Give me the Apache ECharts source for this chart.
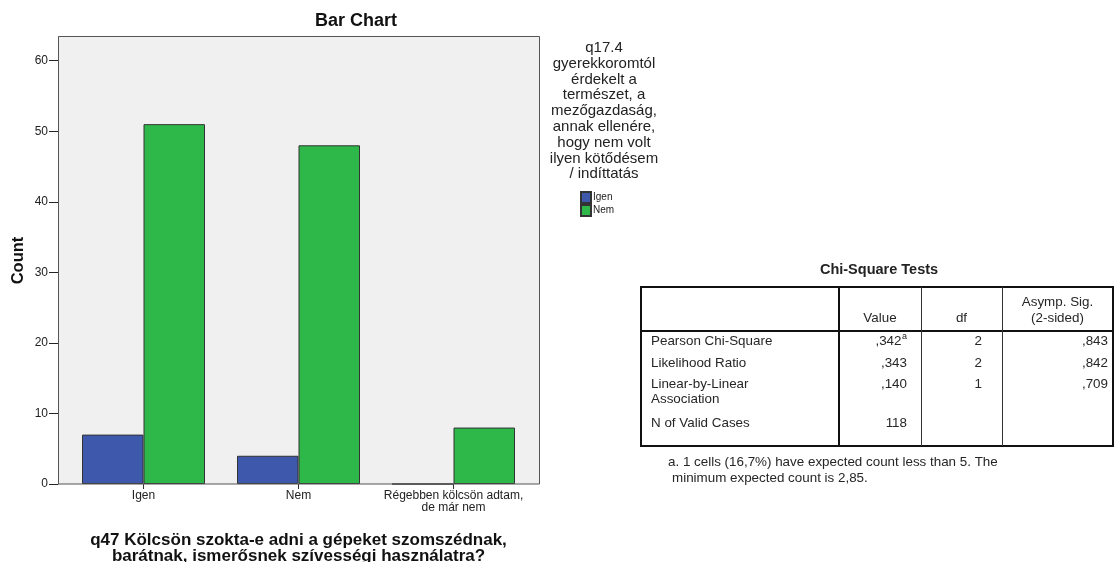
<!DOCTYPE html>
<html><head><meta charset="utf-8">
<script src="https://cdn.jsdelivr.net/npm/echarts@6/dist/echarts.min.js"></script>
<style>html,body{margin:0;padding:0;background:#fff;}#chart{width:1115px;height:562px;}</style>
</head><body><div id="chart"></div>
<script>
// ---- chart data ----
const categories = ['Igen', 'Nem', 'Régebben kölcsön adtam,\nde már nem'];
const seriesNames = ['Igen', 'Nem'];
const igenCounts = [7, 4, 0];
const nemCounts = [51, 48, 8];
const yTickValues = [0, 10, 20, 30, 40, 50, 60];
const chartTitle = 'Bar Chart';
const xAxisTitle = 'q47 Kölcsön szokta-e adni a gépeket szomszédnak,\nbarátnak, ismerősnek szívességi használatra?';
const yAxisTitle = 'Count';
const legendTitleLines = ['q17.4', 'gyerekkoromtól', 'érdekelt a', 'természet, a', 'mezőgazdaság,', 'annak ellenére,', 'hogy nem volt', 'ilyen kötődésem', '/ indíttatás'];

// ---- table data ----
const tableTitle = 'Chi-Square Tests';
const tableHeaders = ['', 'Value', 'df', 'Asymp. Sig.\n(2-sided)'];
const rowLabels = ['Pearson Chi-Square', 'Likelihood Ratio', 'Linear-by-Linear\nAssociation', 'N of Valid Cases'];
const valueCol = [',342', ',343', ',140', '118'];
const valueNotes = ['a', '', '', ''];
const dfCol = ['2', '2', '1', ''];
const sigCol = [',843', ',842', ',709', ''];
const footnoteLines = ['a. 1 cells (16,7%) have expected count less than 5. The', 'minimum expected count is 2,85.'];

const F = "'Liberation Sans', Arial, sans-serif";
const TXT = '#262626';

const elems = [];
function txt(x, y, text, font, align, valign, extra) {
  const st = Object.assign({text: text, font: font, fill: TXT, textAlign: align, textVerticalAlign: valign, align: align, verticalAlign: valign}, extra || {});
  elems.push({type: 'text', x: x, y: y, silent: true, z: 20, style: st});
}
function line(x1, y1, x2, y2, w, c) {
  elems.push({type: 'line', silent: true, z: 20, shape: {x1: x1, y1: y1, x2: x2, y2: y2}, style: {stroke: c || '#111', lineWidth: w}});
}

// plot background + frame
elems.push({type: 'rect', silent: true, z: -5, shape: {x: 58.5, y: 36.5, width: 481, height: 447.5}, style: {fill: '#F0F0F0'}});
elems.push({type: 'rect', silent: true, z: 15, shape: {x: 58.5, y: 36.5, width: 481, height: 447.5}, style: {fill: null, stroke: '#555', lineWidth: 1}});

// chart title
txt(356, 21, chartTitle, 'bold 18px ' + F, 'center', 'middle', {fill: '#111'});
// legend title
txt(604, 40, legendTitleLines.join('\n'), '15px ' + F, 'center', 'top', {lineHeight: 15.8, fill: '#222'});

// ---- table ----
const colX = [641, 839, 921, 1002, 1113];
const tTop = 287, tHead = 331, tBottom = 446;
const rowY = [341, 363, 384, 423];
const TF = '13.4px ' + F;
txt(879, 270, tableTitle, 'bold 14.5px ' + F, 'center', 'middle', {fill: '#222'});
for (let c = 1; c < tableHeaders.length; c++) {
  txt((colX[c] + colX[c + 1]) / 2, 326, tableHeaders[c], TF, 'center', 'bottom', {lineHeight: 16});
}
for (let r = 0; r < rowLabels.length; r++) {
  txt(651, rowY[r] - 7.5, rowLabels[r], TF, 'left', 'top', {lineHeight: 15});
  const vRight = valueNotes[r] ? 901.5 : 907;
  txt(vRight, rowY[r], valueCol[r], TF, 'right', 'middle');
  if (valueNotes[r]) txt(907, rowY[r] - 4, valueNotes[r], '9px ' + F, 'right', 'middle');
  txt(982, rowY[r], dfCol[r], TF, 'right', 'middle');
  txt(1108, rowY[r], sigCol[r], TF, 'right', 'middle');
}
txt(668, 462, footnoteLines[0], TF, 'left', 'middle');
txt(672, 478, footnoteLines[1], TF, 'left', 'middle');
line(colX[0], tTop, colX[4], tTop, 2);
line(colX[0], tBottom, colX[4], tBottom, 2);
line(colX[0], tTop - 1, colX[0], tBottom + 1, 2);
line(colX[4], tTop - 1, colX[4], tBottom + 1, 2);
line(colX[0], tHead, colX[4], tHead, 2);
line(colX[1], tTop, colX[1], tBottom, 2);
line(colX[2] + 0.5, tTop, colX[2] + 0.5, tBottom, 1, '#333');
line(colX[3] + 0.5, tTop, colX[3] + 0.5, tBottom, 1, '#333');

const chart = echarts.init(document.getElementById('chart'), null, {renderer: 'canvas'});
chart.setOption({
  animation: false,
  textStyle: {fontFamily: F},
  grid: {left: 66, right: 584, top: 37, bottom: 78, containLabel: false, outerBoundsMode: 'none'},
  legend: {
    orient: 'vertical', left: 580, top: 191, padding: 0, itemWidth: 10, itemHeight: 11, itemGap: 0,
    icon: 'rect', selectedMode: false, data: seriesNames,
    textStyle: {fontSize: 10, color: '#222', lineHeight: 11, padding: [0, 0, 0, -3]}
  },
  xAxis: {
    type: 'category', data: categories,
    axisLine: {show: false},
    axisTick: {show: true, alignWithLabel: true, length: 5, lineStyle: {color: '#333'}},
    axisLabel: {fontSize: 12, color: '#222', margin: 6, lineHeight: 12, interval: 0},
    name: xAxisTitle, nameLocation: 'middle', nameGap: 48,
    nameTextStyle: {fontWeight: 'bold', fontSize: 17, lineHeight: 16, color: '#111'}
  },
  yAxis: {
    type: 'value', min: 0, max: 63.35, interval: 10, offset: 8,
    splitLine: {show: false},
    axisLine: {show: true, lineStyle: {color: '#222'}},
    axisTick: {show: true, length: 9, customValues: yTickValues, lineStyle: {color: '#222'}},
    axisLabel: {customValues: yTickValues, fontSize: 12, color: '#222', margin: 10},
    name: yAxisTitle, nameLocation: 'middle', nameGap: 31,
    nameTextStyle: {fontWeight: 'bold', fontSize: 16.5, color: '#111'}
  },
  series: [
    {name: seriesNames[0], type: 'bar', data: igenCounts, barWidth: 61.5, barGap: '0%',
     itemStyle: {color: '#3E58AC', borderColor: '#333', borderWidth: 1}},
    {name: seriesNames[1], type: 'bar', data: nemCounts, barWidth: 61.5, barGap: '0%',
     itemStyle: {color: '#2EB84A', borderColor: '#333', borderWidth: 1}}
  ],
  graphic: {elements: elems}
});
</script>
</body></html>
